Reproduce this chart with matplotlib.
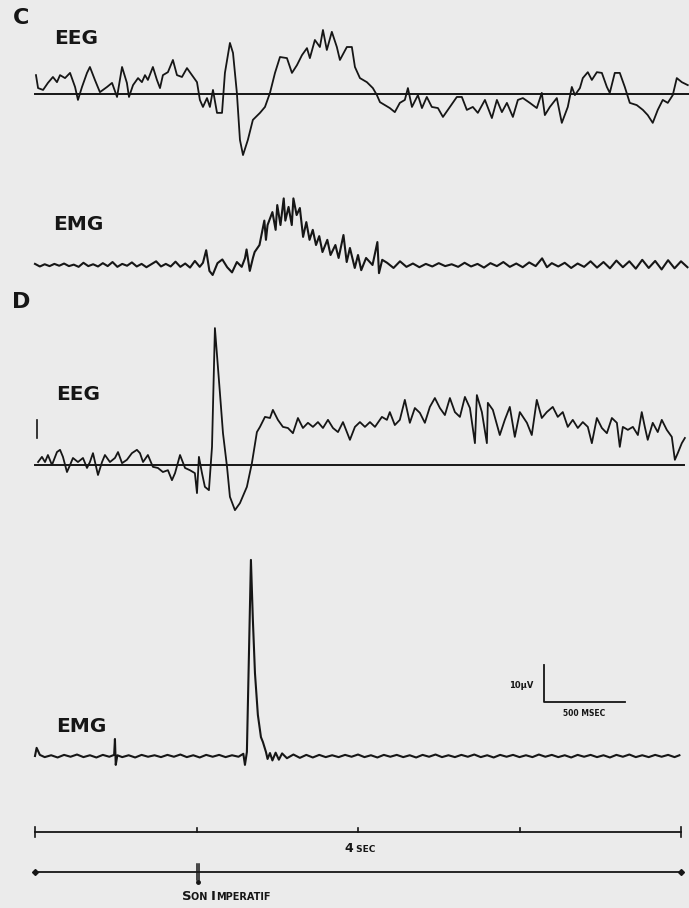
import matplotlib
matplotlib.use("Agg")
import matplotlib.pyplot as plt
from matplotlib.offsetbox import TextArea, HPacker, AnnotationBbox

# ---------------- data (time in s, amplitude in microvolts) ----------------
cEEG_t = [0.006,0.019,0.050,0.080,0.111,0.136,0.155,0.186,0.217,0.248,
          0.266,0.291,0.322,0.340,0.371,0.402,0.446,0.477,0.508,0.539,
          0.569,0.582,0.607,0.638,0.662,0.681,0.699,0.730,0.755,0.774,
          0.792,0.823,0.854,0.879,0.910,0.941,0.972,1.003,1.021,1.040,
          1.065,1.083,1.102,1.127,1.158,1.176,1.207,1.226,1.250,1.269,
          1.288,1.318,1.349,1.393,1.424,1.455,1.486,1.517,1.560,1.591,
          1.622,1.653,1.684,1.702,1.733,1.764,1.783,1.807,1.838,1.869,
          1.888,1.931,1.962,1.981,2.012,2.055,2.092,2.117,2.136,2.167,
          2.197,2.228,2.259,2.290,2.309,2.334,2.371,2.396,2.426,2.457,
          2.495,2.526,2.569,2.612,2.643,2.674,2.711,2.742,2.786,2.829,
          2.860,2.891,2.922,2.959,2.990,3.021,3.064,3.107,3.138,3.157,
          3.188,3.231,3.262,3.299,3.324,3.343,3.374,3.392,3.423,3.448,
          3.479,3.510,3.541,3.559,3.590,3.621,3.652,3.683,3.726,3.764,
          3.794,3.825,3.856,3.887,3.918,3.949,3.974,4.005,4.042]
cEEG_v = [5.1,1.6,1.1,3.0,4.6,3.2,5.1,4.3,5.7,1.9,
          -1.6,1.9,5.7,7.3,3.8,0.5,1.9,3.0,-0.8,7.3,
          3.0,-0.8,2.4,4.3,3.2,5.1,3.8,7.3,3.8,1.6,
          5.1,5.9,9.2,5.1,4.6,7.0,5.1,3.2,-1.6,-3.5,
          -1.1,-3.5,1.1,-5.1,-5.1,5.7,13.8,11.1,0.3,-12.4,
          -16.5,-12.4,-7.0,-5.1,-3.5,0.3,5.7,10.0,9.7,5.7,
          7.8,10.5,12.4,9.7,14.6,12.7,17.3,11.9,16.8,12.7,
          9.2,12.7,12.7,7.3,4.3,3.2,1.6,-0.3,-2.2,-3.0,
          -3.8,-4.9,-2.4,-1.6,1.6,-3.5,-0.3,-3.8,-0.8,-3.5,
          -3.8,-6.2,-3.5,-0.8,-0.8,-4.3,-3.5,-5.1,-1.6,-6.5,
          -1.6,-4.9,-2.4,-6.2,-1.6,-1.1,-2.4,-3.8,0.3,-5.7,
          -3.5,-1.1,-7.8,-3.5,1.9,-0.3,1.6,4.3,5.9,3.8,
          5.9,5.7,1.9,0.3,5.7,5.7,1.9,-2.4,-3.0,-4.3,
          -5.7,-7.8,-4.3,-1.6,-2.4,-0.3,4.3,3.2,2.4]

cEMG_t = [0.00,0.03,0.06,0.09,0.12,0.15,0.18,0.21,0.24,0.27,
          0.30,0.33,0.36,0.39,0.42,0.45,0.48,0.51,0.54,0.57,
          0.60,0.63,0.66,0.69,0.72,0.75,0.78,0.81,0.84,0.87,
          0.90,0.93,0.96,0.99,1.02,1.04,1.06,1.08,1.10,1.13,
          1.16,1.19,1.22,1.25,1.28,1.30,1.31,1.33,1.35,1.36,
          1.39,1.42,1.43,1.44,1.47,1.49,1.50,1.52,1.54,1.55,
          1.57,1.59,1.60,1.62,1.64,1.66,1.68,1.70,1.72,1.74,
          1.76,1.78,1.81,1.83,1.86,1.88,1.91,1.93,1.95,1.98,
          2.00,2.02,2.05,2.09,2.12,2.13,2.15,2.18,2.22,2.26,
          2.30,2.34,2.38,2.42,2.46,2.50,2.54,2.58,2.62,2.66,
          2.70,2.74,2.78,2.82,2.86,2.90,2.94,2.98,3.02,3.06,
          3.10,3.14,3.17,3.20,3.24,3.28,3.32,3.36,3.40,3.44,
          3.48,3.52,3.56,3.60,3.64,3.68,3.72,3.76,3.80,3.84,
          3.88,3.92,3.96,4.00,4.04]
cEMG_v = [0.3,-0.4,0.2,-0.3,0.3,-0.2,0.4,-0.3,0.1,-0.5,
          0.6,-0.3,0.2,-0.4,0.5,-0.3,0.8,-0.5,0.3,-0.2,
          0.7,-0.4,0.3,-0.6,0.2,1.0,-0.4,0.3,-0.4,0.9,
          -0.5,0.4,-0.7,1.1,-0.5,0.6,4.0,-1.6,-2.7,0.5,
          1.5,-0.6,-2.0,0.8,-0.5,1.8,4.2,-1.6,2.0,3.5,
          5.4,12.0,6.8,10.8,14.3,9.5,16.2,10.8,18.0,12.0,
          15.7,10.8,18.0,13.5,15.4,7.6,11.6,6.8,9.5,5.4,
          7.8,3.5,6.8,2.7,5.4,1.9,8.1,0.8,4.6,-0.8,
          2.7,-1.4,1.9,0.0,6.2,-2.2,1.4,0.6,-0.8,1.0,
          -0.5,0.4,-0.6,0.3,-0.4,0.5,-0.3,0.2,-0.5,0.6,
          -0.4,0.3,-0.7,0.5,-0.3,0.8,-0.5,0.4,-0.6,0.7,
          -0.3,1.8,-0.6,0.5,-0.4,0.6,-0.8,0.4,-0.5,1.0,
          -0.7,0.8,-0.9,1.2,-0.6,1.0,-1.0,1.4,-0.8,1.1,
          -1.2,1.3,-0.9,1.0,-0.6]

dEEG_t = [0.019,0.043,0.062,0.080,0.105,0.136,0.155,0.173,0.198,0.217,
          0.235,0.266,0.297,0.322,0.340,0.359,0.390,0.415,0.433,0.464,
          0.495,0.514,0.539,0.569,0.600,0.631,0.650,0.669,0.699,0.730,
          0.761,0.792,0.823,0.848,0.867,0.898,0.929,0.959,0.990,1.003,
          1.015,1.034,1.052,1.077,1.096,1.114,1.133,1.145,1.164,1.189,1.207,
          1.238,1.269,1.312,1.343,1.374,1.393,1.424,1.455,1.473,1.504,
          1.535,1.566,1.597,1.628,1.659,1.690,1.721,1.752,1.783,1.814,
          1.845,1.876,1.907,1.950,1.981,2.012,2.043,2.074,2.105,2.148,
          2.179,2.197,2.228,2.259,2.290,2.321,2.352,2.383,2.414,2.445,
          2.476,2.507,2.538,2.569,2.600,2.631,2.662,2.693,2.724,2.736,
          2.767,2.798,2.804,2.835,2.878,2.909,2.940,2.971,3.002,3.046,
          3.076,3.107,3.138,3.169,3.206,3.237,3.268,3.299,3.330,3.361,
          3.392,3.423,3.448,3.479,3.510,3.541,3.572,3.603,3.621,3.640,
          3.671,3.702,3.733,3.757,3.776,3.794,3.825,3.856,3.881,3.912,
          3.943,3.962,3.980,4.005,4.024]
dEEG_v = [0.8,2.2,0.8,2.7,0.0,3.5,4.1,2.2,-1.9,0.0,
          1.9,0.8,1.9,-0.8,0.8,3.2,-2.7,0.8,2.7,0.8,
          1.9,3.5,0.5,1.4,3.2,4.1,3.2,0.8,2.7,-0.5,
          -0.8,-1.9,-1.4,-4.1,-2.2,2.7,-0.8,-1.4,-2.2,-7.6,
          2.2,-2.2,-5.9,-6.8,4.9,37.0,26.5,19.5,8.6,-0.5,-8.6,
          -12.2,-10.3,-5.9,0.5,8.9,10.3,13.0,12.7,14.9,12.2,
          10.3,10.0,8.6,12.7,10.0,11.4,10.3,11.6,10.0,12.2,
          10.0,8.9,11.6,6.8,10.3,11.6,10.3,11.6,10.3,13.0,
          12.2,14.3,10.8,12.2,17.6,11.4,15.4,14.1,11.4,15.7,
          18.1,15.4,13.5,18.1,14.3,13.0,18.4,15.4,5.9,18.9,
          14.3,5.9,16.8,14.9,8.1,12.2,15.7,7.6,14.3,11.4,
          8.1,17.6,12.7,14.3,15.7,13.0,14.3,10.3,12.2,10.0,
          11.6,10.3,5.9,12.7,10.0,8.6,12.7,11.4,4.9,10.3,
          9.5,10.3,8.1,14.3,10.3,6.8,11.4,8.9,12.2,9.5,
          7.6,1.4,3.2,5.9,7.3]
dEEG_calib_t = 0.012
dEEG_calib_v = [7.3, 12.2]

dEMG_t = [0.00,0.01,0.03,0.06,0.10,0.14,0.18,0.22,0.26,0.30,
          0.34,0.38,0.42,0.46,0.49,0.495,0.50,0.51,0.54,0.58,
          0.62,0.66,0.70,0.74,0.78,0.82,0.86,0.90,0.94,0.98,
          1.02,1.06,1.10,1.14,1.18,1.22,1.26,1.29,1.30,1.312,
          1.337,1.349,1.362,1.380,1.399,1.411,1.43,1.44,1.455,1.47,
          1.49,1.51,1.53,1.56,1.60,1.64,1.68,1.72,1.76,1.80,
          1.84,1.88,1.92,1.96,2.00,2.04,2.08,2.12,2.16,2.20,
          2.24,2.28,2.32,2.36,2.40,2.44,2.48,2.52,2.56,2.60,
          2.64,2.68,2.72,2.76,2.80,2.84,2.88,2.92,2.96,3.00,
          3.04,3.08,3.12,3.16,3.20,3.24,3.28,3.32,3.36,3.40,
          3.44,3.48,3.52,3.56,3.60,3.64,3.68,3.72,3.76,3.80,
          3.84,3.88,3.92,3.96,3.99]
dEMG_v = [0.0,2.2,0.3,-0.3,0.2,-0.4,0.3,-0.2,0.4,-0.3,
          0.2,-0.4,0.3,-0.2,0.3,4.6,-2.4,0.2,-0.3,0.2,
          -0.4,0.3,-0.2,0.2,-0.3,0.3,-0.2,0.4,-0.3,0.2,
          -0.4,0.3,-0.2,0.3,-0.3,0.2,-0.2,0.6,-2.4,1.1,
          53.0,36.8,22.4,11.1,5.1,3.8,1.1,-0.8,0.8,-1.2,
          0.9,-1.0,0.7,-0.6,0.4,-0.5,0.3,-0.4,0.3,-0.3,
          0.2,-0.3,0.3,-0.2,0.4,-0.3,0.2,-0.4,0.3,-0.2,
          0.3,-0.3,0.2,-0.4,0.3,-0.2,0.4,-0.3,0.2,-0.3,
          0.3,-0.2,0.4,-0.3,0.2,-0.4,0.3,-0.2,0.3,-0.3,
          0.2,-0.3,0.4,-0.2,0.3,-0.3,0.2,-0.4,0.3,-0.2,
          0.3,-0.3,0.2,-0.4,0.3,-0.2,0.4,-0.3,0.2,-0.3,
          0.3,-0.2,0.3,-0.3,0.2]

time_ticks = [0, 1, 2, 3, 4]          # seconds on the 4 s time bar
son_time = 1.0                        # imperative tone onset (s)
scale_t0, scale_dur = 3.152, 0.5      # calibration bar: 500 ms
scale_v0, scale_amp = 14.6, 10        # calibration bar: 10 uV

# ---------------- layout ----------------
W, H, DPI = 689, 908, 100
BG = '#ebebeb'
INK = '#161616'
PX_PER_S = 161.5
PX_PER_UV = 3.7
T0_PX = 35
XLIM = (-T0_PX / PX_PER_S, (W - T0_PX) / PX_PER_S)
LW = 1.3

fig = plt.figure(figsize=(W / DPI, H / DPI), dpi=DPI, facecolor=BG)


def trace_axes(top, bot, base):
    ax = fig.add_axes([0, 1 - bot / H, 1, (bot - top) / H])
    ax.set_xlim(*XLIM)
    ax.set_ylim(-(bot - base) / PX_PER_UV, (base - top) / PX_PER_UV)
    ax.axis('off')
    ax.patch.set_alpha(0)
    return ax


def label(x, y, s, size=14.5):
    fig.text(x / W, 1 - y / H, s, ha='center', va='center', fontsize=size,
             fontweight='bold', color=INK, family='DejaVu Sans')


def smallcaps(parts, x, y, big, small):
    kids = [TextArea(s, textprops=dict(fontsize=big if b else small,
                                       fontweight='bold', color=INK,
                                       family='DejaVu Sans'))
            for s, b in parts]
    box = HPacker(children=kids, align='baseline', pad=0, sep=0)
    ab = AnnotationBbox(box, (x / W, 1 - y / H), xycoords='figure fraction',
                        frameon=False, box_alignment=(0.5, 0.5), pad=0)
    fig.add_artist(ab)


# C EEG
ax = trace_axes(0, 170, 94)
ax.plot([0, XLIM[1]], [0, 0], color=INK, lw=1.4, clip_on=False)
ax.plot(cEEG_t, cEEG_v, color=INK, lw=LW, clip_on=False)

# C EMG
ax = trace_axes(170, 290, 265)
ax.plot(cEMG_t, cEMG_v, color=INK, lw=1.5, clip_on=False)

# D EEG
ax = trace_axes(290, 540, 465)
ax.plot([0, 4.02], [0, 0], color=INK, lw=1.4, clip_on=False)
ax.plot(dEEG_t, dEEG_v, color=INK, lw=LW, clip_on=False)
ax.plot([dEEG_calib_t, dEEG_calib_t], dEEG_calib_v, color=INK, lw=1.2)

# D EMG + calibration bar
ax = trace_axes(540, 800, 756)
ax.plot(dEMG_t, dEMG_v, color=INK, lw=1.5, clip_on=False)
ax.plot([scale_t0, scale_t0, scale_t0 + scale_dur],
        [scale_v0 + scale_amp, scale_v0, scale_v0], color=INK, lw=1.3)

# time bars (y in pixel rows)
axb = fig.add_axes([0, 0, 1, 118 / H])
axb.set_xlim(*XLIM)
axb.set_ylim(908, 790)
axb.axis('off')
axb.patch.set_alpha(0)
axb.plot([time_ticks[0], time_ticks[-1]], [832, 832], color=INK, lw=1.3)
for t in time_ticks:
    if t in (time_ticks[0], time_ticks[-1]):
        axb.plot([t, t], [827, 837], color=INK, lw=1.2)
    else:
        axb.plot([t, t], [828, 832], color=INK, lw=1.2)
axb.plot([time_ticks[0], time_ticks[-1]], [872, 872], color=INK, lw=1.3)
axb.plot([time_ticks[0], time_ticks[-1]], [872, 872], ls='none', marker='D',
         ms=3, color=INK)
for dt in (0.0, 0.016):
    axb.plot([son_time + dt, son_time + dt], [864, 880], color=INK, lw=1.1)
axb.plot([son_time + 0.008], [882], marker='o', ms=2.5, color=INK)

# texts
label(21, 18, 'C', 16)
label(76, 38, 'EEG')
label(78, 225, 'EMG')
label(21, 302, 'D', 16)
label(78, 395, 'EEG')
label(81, 727, 'EMG')
label(521, 686, '10\u03bcV', 6)
label(584, 713, '500 MSEC', 5.5)
smallcaps([('4', True), (' SEC', False)], 360, 848, 9, 6.5)
smallcaps([('S', True), ('ON ', False), ('I', True), ('MPERATIF', False)],
          226, 897, 9.5, 7)

fig.savefig('out.png', dpi=DPI, facecolor=BG)
